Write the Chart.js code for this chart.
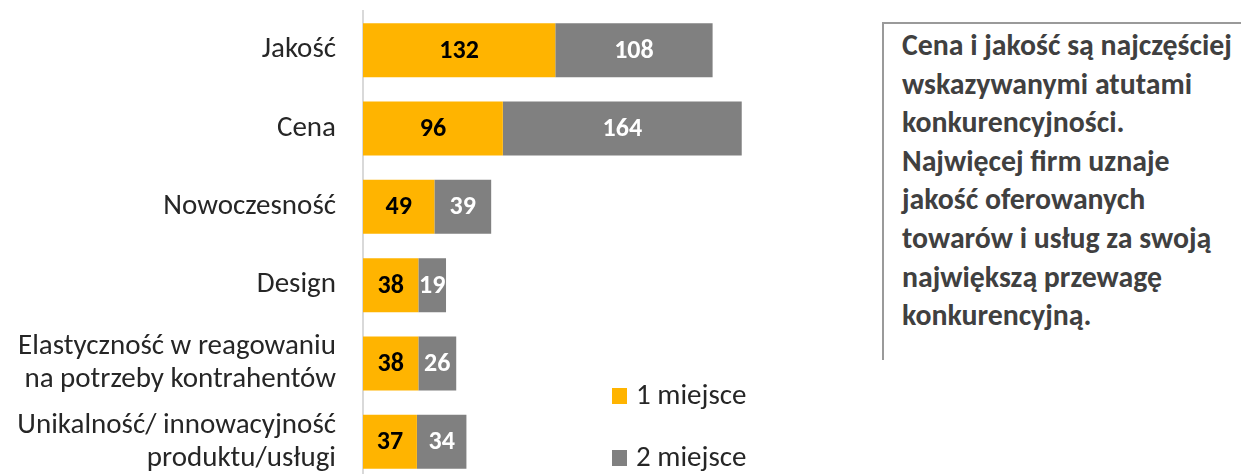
<!DOCTYPE html>
<html lang="pl">
<head>
<meta charset="utf-8">
<script src="https://cdn.jsdelivr.net/npm/chart.js@4"></script>
<style>
  html, body { margin: 0; padding: 0; background: #fff; overflow: hidden; }
  body { width: 1241px; height: 474px; position: relative; font-family: Carlito, Lato, sans-serif; }
  #wrap { position: absolute; left: 0; top: 0; width: 800px; height: 481px; }
  #legend { position: absolute; left: 612px; top: 379px; }
  .item { position: absolute; left: 0; white-space: nowrap; font-size: 29px; color: #262626; line-height: 30px; }
  .item span.box { display: inline-block; width: 15px; height: 16px; margin-right: 9px; }
  #note {
    position: absolute; left: 882px; top: 22px; width: 380px; height: 338px;
    border-left: 2px solid #9a9a9a; border-top: 2px solid #9a9a9a;
    box-sizing: border-box; padding: 2px 0 0 18px;
    font-weight: bold; font-size: 29.8px; line-height: 38.6px; color: #404040; white-space: nowrap;
  }
</style>
</head>
<body>
<div id="wrap"><canvas id="chart"></canvas></div>
<div id="legend"></div>
<div id="note">Cena i jakość są najczęściej<br>wskazywanymi atutami<br>konkurencyjności.<br>Najwięcej firm uznaje<br>jakość oferowanych<br>towarów i usług za swoją<br>największą przewagę<br>konkurencyjną.</div>
<script>
const categories = [
  'Jakość',
  'Cena',
  'Nowoczesność',
  'Design',
  ['Elastyczność w reagowaniu', 'na potrzeby kontrahentów'],
  ['Unikalność/ innowacyjność', 'produktu/usługi']
];
const firstPlace = [132, 96, 49, 38, 38, 37];
const secondPlace = [108, 164, 39, 19, 26, 34];
const seriesNames = ['1 miejsce', '2 miejsce'];

const YELLOW = '#FFB400';
const GREY = '#808080';
const FONT = 'Carlito, Lato, sans-serif';

// values printed in the middle of each segment
const barValues = {
  id: 'barValues',
  afterDatasetsDraw(chart) {
    const ctx = chart.ctx;
    ctx.save();
    ctx.font = 'bold 26px ' + FONT;
    ctx.textAlign = 'center';
    ctx.textBaseline = 'middle';
    chart.data.datasets.forEach((ds, i) => {
      const meta = chart.getDatasetMeta(i);
      meta.data.forEach((bar, j) => {
        ctx.fillStyle = i === 0 ? '#000' : '#fff';
        ctx.fillText(ds.data[j], (bar.x + bar.base) / 2, bar.y + 1);
      });
    });
    ctx.restore();
  }
};

const chart = new Chart(document.getElementById('chart'), {
  type: 'bar',
  data: {
    labels: categories,
    datasets: [
      { label: seriesNames[0], data: firstPlace, backgroundColor: YELLOW },
      { label: seriesNames[1], data: secondPlace, backgroundColor: GREY }
    ]
  },
  options: {
    indexAxis: 'y',
    responsive: true,
    maintainAspectRatio: false,
    animation: false,
    layout: { padding: { top: 11, right: 0, bottom: 0, left: 0 } },
    datasets: { bar: { categoryPercentage: 1, barPercentage: 0.69 } },
    scales: {
      x: { stacked: true, display: false, min: 0, max: 300 },
      y: {
        stacked: true,
        afterFit: (s) => {
          // fixed label column, no extra room for tall labels
          s.width = 363;
          s.paddingTop = 0;
          s.paddingBottom = 0;
        },
        grid: { display: false, drawTicks: false },
        border: { display: true, color: '#d9d9d9', width: 2 },
        ticks: {
          padding: 27,
          color: '#262626',
          font: { family: FONT, size: 29, lineHeight: 1.14 }
        }
      }
    },
    plugins: {
      legend: { display: false },
      tooltip: { enabled: false }
    }
  },
  plugins: [barValues]
});

// legend built from the datasets
const legend = document.getElementById('legend');
chart.data.datasets.forEach((ds, i) => {
  const item = document.createElement('div');
  item.className = 'item';
  item.style.top = (i * 62) + 'px';
  item.innerHTML = '<span class="box" style="background:' + ds.backgroundColor + '"></span>' + ds.label;
  legend.appendChild(item);
});
</script>
</body>
</html>
